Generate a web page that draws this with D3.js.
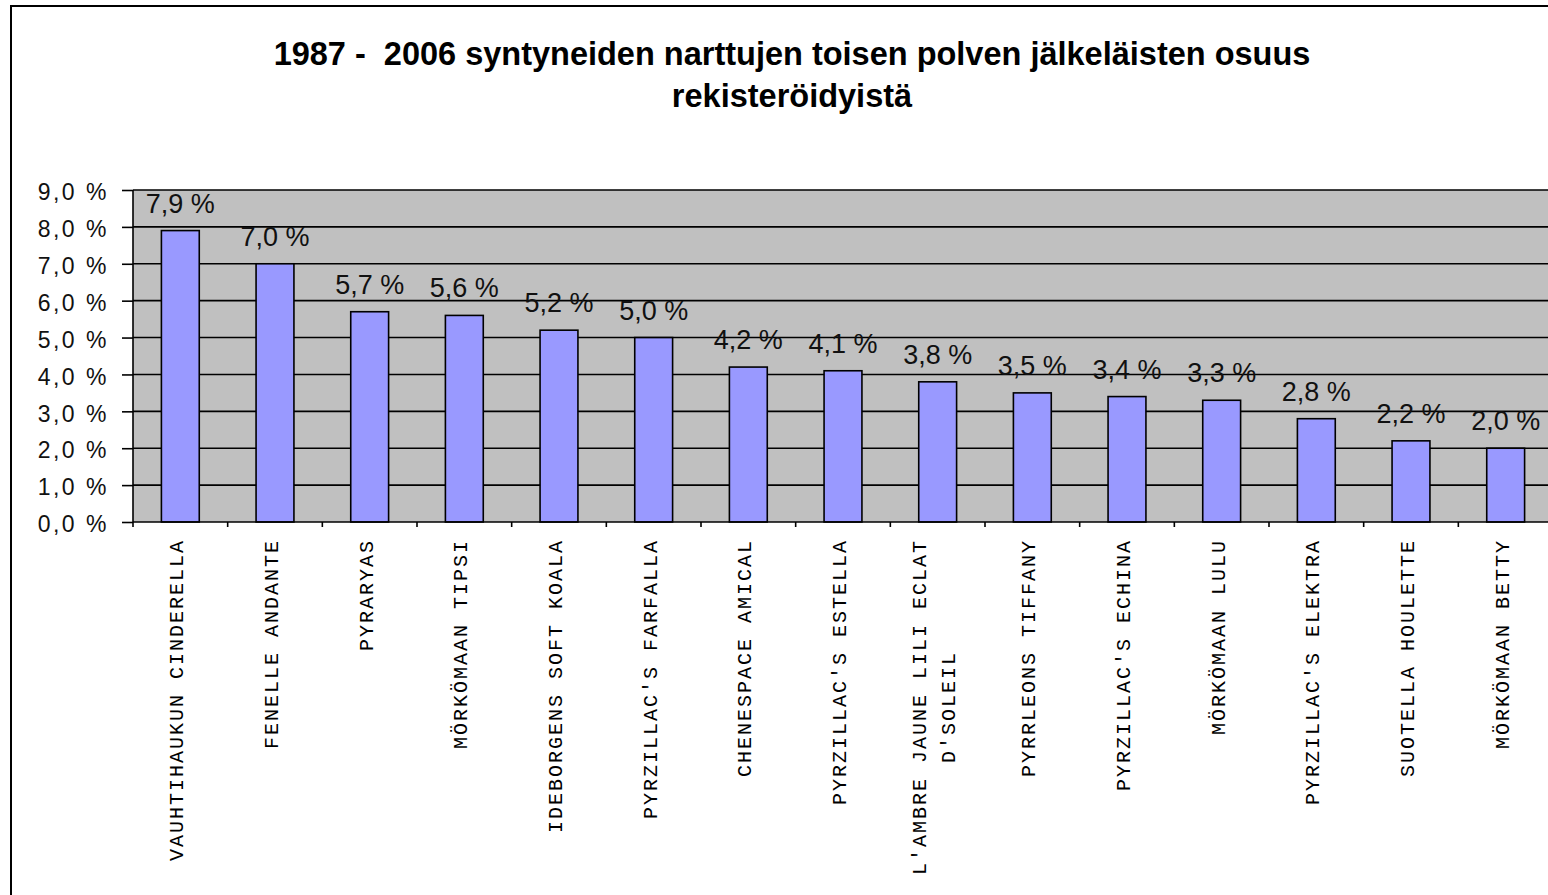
<!DOCTYPE html>
<html>
<head>
<meta charset="utf-8">
<script src="https://cdn.jsdelivr.net/npm/d3@7"></script>
<style>
  html, body { margin: 0; padding: 0; background: #fff; overflow: hidden; }
  svg { display: block; }
</style>
</head>
<body>
<svg id="chart" width="1548" height="895"></svg>
<script>
// ---- data ----
const titleLines = ["1987 -  2006 syntyneiden narttujen toisen polven jälkeläisten osuus", "rekisteröidyistä"];
const categories = [
  "VAUHTIHAUKUN CINDERELLA",
  "FENELLE ANDANTE",
  "PYRARYAS",
  "MÖRKÖMAAN TIPSI",
  "IDEBORGENS SOFT KOALA",
  "PYRZILLAC'S FARFALLA",
  "CHENESPACE AMICAL",
  "PYRZILLAC'S ESTELLA",
  "L'AMBRE JAUNE LILI ECLAT\nD'SOLEIL",
  "PYRRLEONS TIFFANY",
  "PYRZILLAC'S ECHINA",
  "MÖRKÖMAAN LULU",
  "PYRZILLAC'S ELEKTRA",
  "SUOTELLA HOULETTE",
  "MÖRKÖMAAN BETTY"
];
const values = [7.9, 7.0, 5.7, 5.6, 5.2, 5.0, 4.2, 4.1, 3.8, 3.5, 3.4, 3.3, 2.8, 2.2, 2.0];
const yTicks = [0, 1, 2, 3, 4, 5, 6, 7, 8, 9];
const yTickLabels = ["0,0 %", "1,0 %", "2,0 %", "3,0 %", "4,0 %", "5,0 %", "6,0 %", "7,0 %", "8,0 %", "9,0 %"];

// ---- layout ----
const svg = d3.select("#chart");
const plot = { left: 133, top: 190, bottom: 522, right: 1553 };

const x = d3.scaleBand().domain(categories).range([plot.left, plot.right]).padding(0);
const y = d3.scaleLinear().domain([0, 9]).range([plot.bottom, plot.top]);
const fmt = v => d3.format(".1f")(v).replace(".", ",") + " %";

// outer chart border
svg.append("rect")
  .attr("x", 11).attr("y", 6).attr("width", 1600).attr("height", 1000)
  .attr("fill", "#fff").attr("stroke", "#000").attr("stroke-width", 2);

// title
const title = svg.append("text")
  .attr("text-anchor", "middle")
  .style("white-space", "pre")
  .attr("xml:space", "preserve")
  .attr("font-family", "'Liberation Sans', Arial, sans-serif")
  .attr("font-size", 32.5).attr("font-weight", "bold").attr("fill", "#000");
titleLines.forEach((t, i) => {
  title.append("tspan").attr("x", 792).attr("y", 65 + i * 42).text(t);
});

// plot background
svg.append("rect")
  .attr("x", plot.left).attr("y", plot.top)
  .attr("width", plot.right - plot.left).attr("height", plot.bottom - plot.top)
  .attr("fill", "#C0C0C0");

// gridlines
svg.append("g").selectAll("line")
  .data(yTicks.filter(d => d > 0))
  .join("line")
  .attr("x1", plot.left).attr("x2", plot.right)
  .attr("y1", d => y(d)).attr("y2", d => y(d))
  .attr("stroke", "#000").attr("stroke-width", 1.6);

// bars
const bw = x.bandwidth();
svg.append("g").selectAll("rect")
  .data(values)
  .join("rect")
  .attr("x", (d, i) => x(categories[i]) + bw * 0.3)
  .attr("width", bw * 0.4)
  .attr("y", d => y(d))
  .attr("height", d => y(0) - y(d))
  .attr("fill", "#9999FF")
  .attr("stroke", "#000").attr("stroke-width", 1.6);

// data labels
svg.append("g").selectAll("text")
  .data(values)
  .join("text")
  .attr("x", (d, i) => x(categories[i]) + bw / 2)
  .attr("y", d => y(d) - 18)
  .attr("text-anchor", "middle")
  .attr("font-family", "'Liberation Sans', Arial, sans-serif")
  .attr("font-size", 27).attr("fill", "#111")
  .text(d => fmt(d));

// y axis
const yAxis = svg.append("g")
  .attr("transform", `translate(${plot.left},0)`)
  .call(d3.axisLeft(y).tickValues(yTicks).tickSize(11).tickPadding(13)
    .tickFormat((d, i) => yTickLabels[i]));
yAxis.select(".domain").attr("stroke", "#000").attr("stroke-width", 1.6)
  .attr("d", `M0,${plot.top}V${plot.bottom}`);
yAxis.selectAll(".tick line").attr("stroke", "#000").attr("stroke-width", 1.6);
yAxis.selectAll(".tick text")
  .attr("font-family", "'Liberation Sans', Arial, sans-serif")
  .attr("font-size", 23).attr("letter-spacing", "2.5px")
  .attr("fill", "#111").attr("dy", "0.42em");

// x axis
svg.append("line")
  .attr("x1", plot.left).attr("x2", plot.right)
  .attr("y1", plot.bottom).attr("y2", plot.bottom)
  .attr("stroke", "#000").attr("stroke-width", 1.6);
const boundaries = categories.map(c => x(c)).concat([plot.right]);
svg.append("g").selectAll("line")
  .data(boundaries)
  .join("line")
  .attr("x1", d => d).attr("x2", d => d)
  .attr("y1", plot.bottom).attr("y2", plot.bottom + 5)
  .attr("stroke", "#000").attr("stroke-width", 1.6);

// x labels (rotated)
const xl = svg.append("g");
categories.forEach(c => {
  const lines = c.split("\n");
  const cx = x(c) + bw / 2;
  const g = xl.append("g").attr("transform", `translate(${cx},539) rotate(-90)`);
  const lineH = 29;
  const texts = lines.map((ln, i) => g.append("text")
    .attr("font-family", "'Liberation Mono', 'Courier New', monospace")
    .attr("font-size", 20).attr("letter-spacing", "2px")
    .attr("fill", "#000")
    .attr("text-anchor", "middle")
    .attr("y", 3 + (i - (lines.length - 1) / 2) * lineH)
    .text(ln));
  const maxW = d3.max(texts, t => t.node().getComputedTextLength());
  texts.forEach(t => t.attr("x", -maxW / 2));
});
</script>
</body>
</html>
